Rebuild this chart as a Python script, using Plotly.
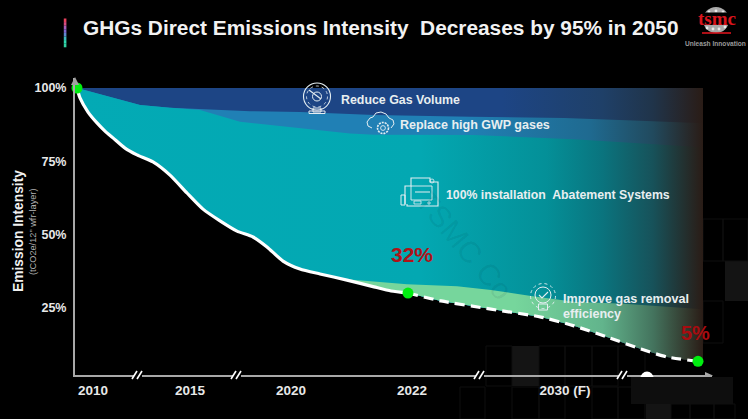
import plotly.graph_objects as go

# ---- data (timeline position on a broken axis, intensity in %)
tick_pos = [93, 190, 291, 412, 565]
tick_labels = ["2010", "2015", "2020", "2022", "2030 (F)"]
y_ticks = [25, 50, 75, 100]

top_x = [77, 703]
top_y = [100, 100]

volume_x = [77, 110, 140, 170, 200, 250, 300, 374, 470, 564, 640, 703]
volume_y = [100, 97, 94.2, 93.3, 92.8, 92.1, 91.8, 90.8, 90.2, 89.8, 88.8, 88.0]

gwp_x = [77, 110, 140, 170, 200, 240, 300, 350, 374, 474, 574, 640, 703]
gwp_y = [100, 97, 94.2, 93.3, 92.5, 88.5, 86.2, 84.5, 84.1, 84.0, 82.5, 81.2, 79.8]

actual_x = [77, 80, 88, 97, 105, 113, 125, 137, 153, 170, 187, 203, 220, 237, 253, 267, 283, 300, 320, 347, 374, 391, 408]
actual_y = [100, 96.6, 91.8, 88.1, 85.3, 83.0, 79.5, 77.2, 74.8, 70.3, 64.2, 58.7, 54.7, 51.2, 49.2, 45.8, 41.0, 38.3, 36.6, 34.5, 32.2, 30.8, 30.1]

forecast_x = [408, 441, 491, 541, 574, 607, 641, 667, 698]
forecast_y = [30.1, 27.4, 24.6, 21.9, 18.9, 15.1, 11.0, 8.3, 6.8]

removal_x = [340, 374, 407, 457, 491, 531, 574, 624, 703]
removal_y = [35.0, 34.1, 33.1, 32.4, 31.1, 29.1, 27.1, 26.4, 24.6]

dot_x = [77, 408, 698]
dot_y = [100, 30.1, 6.8]

X0, X1, Y0, Y1 = 75, 712, 78, 375
def px(x): return (x - X0) / (X1 - X0)
def py(y): return 1 - (y - Y0) / (Y1 - Y0)

lower_x = actual_x + forecast_x[1:] + [703]
lower_y = actual_y + forecast_y[1:] + [6.7]

def band(upper_x, upper_y, bottom_x, bottom_y, stops):
    return go.Scatter(
        x=list(upper_x) + list(bottom_x)[::-1],
        y=list(upper_y) + list(bottom_y)[::-1],
        mode="lines", line=dict(width=0), fill="toself",
        fillgradient=dict(type="horizontal", start=75, stop=703, colorscale=stops),
        hoverinfo="skip", showlegend=False)

DARK = "#2a1c16"
fig = go.Figure()
fig.add_trace(band(top_x, top_y, lower_x, lower_y,
    [[0, "#1d4585"], [0.68, "#1d4585"], [0.84, "#1f4068"], [0.92, "#20344a"], [1, DARK]]))
fig.add_trace(band(volume_x, volume_y, lower_x, lower_y,
    [[0, "#2080b5"], [0.62, "#2080b5"], [0.82, "#1f6a90"], [0.92, "#214a5e"], [1, DARK]]))
fig.add_trace(band(gwp_x, gwp_y, lower_x, lower_y,
    [[0, "#03aab5"], [0.55, "#03a8b2"], [0.75, "#049098"], [0.84, "#0a747e"], [0.92, "#17525a"], [1, DARK]]))
low_green = [(x, y) for x, y in zip(lower_x, lower_y) if x >= 340]
fig.add_trace(band(removal_x, removal_y,
    [340] + [p[0] for p in low_green], [35.0] + [p[1] for p in low_green],
    [[0, "#76d69c"], [0.7, "#76d69c"], [0.84, "#62b48c"], [0.92, "#44745e"], [1, DARK]]))

fig.add_trace(go.Scatter(x=actual_x, y=actual_y, mode="lines", showlegend=False, hoverinfo="skip",
                         line=dict(color="white", width=3.2, shape="spline", smoothing=0.6)))
fig.add_trace(go.Scatter(x=forecast_x, y=forecast_y, mode="lines", showlegend=False, hoverinfo="skip",
                         line=dict(color="white", width=3.2, dash="10px,6px", shape="spline", smoothing=0.6)))
fig.add_trace(go.Scatter(x=dot_x, y=dot_y, mode="markers", showlegend=False, hoverinfo="skip",
                         cliponaxis=False, marker=dict(color="#00ee10", size=11)))

shapes = []
def rect(x0, y0, x1, y1, fill=None, line=None, w=1, layer="above"):
    shapes.append(dict(type="rect", xref="paper", yref="paper", layer=layer,
                       x0=px(x0), x1=px(x1), y0=py(y0), y1=py(y1),
                       fillcolor=fill or "rgba(0,0,0,0)",
                       line=dict(color=line or "rgba(0,0,0,0)", width=w if line else 0)))
def circ(cx, cy, r, fill=None, line=None, w=1, dash=None):
    shapes.append(dict(type="circle", xref="paper", yref="paper", layer="above",
                       x0=px(cx - r), x1=px(cx + r), y0=py(cy + r), y1=py(cy - r),
                       fillcolor=fill or "rgba(0,0,0,0)",
                       line=dict(color=line or "rgba(0,0,0,0)", width=w if line else 0, dash=dash or "solid")))
def seg(x0, y0, x1, y1, color="#e8f2f4", w=1):
    shapes.append(dict(type="line", xref="paper", yref="paper", layer="above",
                       x0=px(x0), x1=px(x1), y0=py(y0), y1=py(y1), line=dict(color=color, width=w)))
def path(pts, fill=None, line=None, w=1, close=False):
    d = "M" + " L".join(f"{px(a):.5f},{py(b):.5f}" for a, b in pts) + (" Z" if close else "")
    shapes.append(dict(type="path", xref="paper", yref="paper", layer="above", path=d,
                       fillcolor=fill or "rgba(0,0,0,0)",
                       line=dict(color=line or "rgba(0,0,0,0)", width=w if line else 0)))

# faint background tiles
for t in [(725, 261, 748, 301), (512, 346, 539, 386), (646, 404, 671, 419)]:
    rect(*t, fill="#141414", layer="below")
for t in [(486, 346, 512, 386), (539, 346, 565, 386), (565, 346, 592, 386), (592, 346, 618, 386),
          (618, 346, 645, 376), (703, 219, 723, 261), (723, 219, 748, 261), (703, 301, 723, 343),
          (460, 387, 485, 419), (512, 387, 539, 419), (539, 387, 565, 419), (592, 387, 618, 419),
          (618, 387, 645, 419), (671, 404, 690, 419), (690, 404, 714, 419), (714, 404, 735, 419)]:
    rect(*t, line="#0e0e0e", layer="below")

# gradient accent next to the title
accent = ["#e8405c", "#d84c80", "#a860b8", "#8068d0", "#6088d0", "#40b8c0", "#30d8b0", "#30d0a0"]
for i, c in enumerate(accent):
    rect(63.8, 18.5 + i * 3.6, 66.4, 18.5 + (i + 1) * 3.6, fill=c)

# axis arrow heads and break marks
path([(71, 85), (75, 77), (79, 85)], fill="#a0a0a0", close=True)
path([(705, 372), (713, 375.5), (705, 379)], fill="#a8a8a8", close=True)
for b in [138, 237, 480, 623]:
    rect(b - 4, 373, b + 4, 378, fill="#000000")
    seg(b - 6, 379, b - 1, 371, "white", 1.6)
    seg(b - 1, 379, b + 4, 371, "white", 1.6)

# white blob and masking box
circ(647, 378, 6.5, fill="white")
rect(631, 377, 733, 404, fill="#0e0e0e")

# gauge icon
ic = "#e4eef2"
circ(317, 96.5, 13.5, line=ic, w=1.1)
circ(317, 96.5, 10.5, line=ic, w=0.8, dash="dot")
circ(317, 96.5, 4.5, line=ic, w=1)
seg(309, 90, 321, 99, ic, 1.1)
rect(313, 108, 321, 112, line=ic, w=1)
rect(309, 111, 325, 113.5, line=ic, w=1)

# cloud and gear icon
path([(372, 128), (368, 126), (367, 122), (370, 118), (373, 117), (376, 113), (381, 112), (386, 114),
      (389, 118), (393, 120), (394, 124), (391, 128)], line=ic, w=1)
circ(383, 128, 5.5, fill="#2080b5", line=ic, w=1.6, dash="2px,1px")
circ(383, 128, 2.4, line=ic, w=0.9)

# abatement machine icon
path([(405, 204), (405, 186), (411, 186), (411, 178), (430, 178), (430, 182), (438, 182), (438, 206), (407, 206), (407, 204)], line=ic, w=1.1)
rect(401, 195, 405, 205, line=ic, w=1)
rect(411, 186, 432, 200, line=ic, w=0.9)
seg(415, 192, 430, 192, ic, 1)
rect(414, 201, 421, 204, line=ic, w=0.8)
circ(429, 203, 1.2, line=ic, w=0.8)
circ(432, 181, 2, line=ic, w=0.8)

# bulb icon
circ(543, 296, 12.5, line=ic, w=0.9, dash="dot")
circ(543, 295, 8, line=ic, w=1)
rect(538.5, 304, 547.5, 310, line=ic, w=1)
path([(539, 295), (542, 298), (548, 292)], line=ic, w=1.1)

# logo
circ(716, 20, 13, fill="#a9a9a9")
for dx, dy in [(-7, -8), (0, -9), (7, -8), (-9, 8), (-3, 9), (3, 9), (9, 7), (-4, -5), (4, -5)]:
    circ(716 + dx, 20 + dy, 1.4, fill="#e8e8e8")
rect(701, 12.5, 733, 25, fill="#000000")
seg(702, 33, 731, 33, "#d8141c", 1.6)

def note(x, y, text, size, color="#e8eef0", bold=True, anchor="left", angle=0, family="Liberation Sans"):
    x = x - 2 if anchor == "left" else x
    return dict(xref="paper", yref="paper", x=px(x), y=py(y), text=f"<b>{text}</b>" if bold else text,
                showarrow=False, xanchor=anchor, yanchor="middle", textangle=angle,
                font=dict(size=size, color=color, family=family))

notes = [
    note(83, 27, "GHGs Direct Emissions Intensity\u00a0 Decreases by 95% in 2050", 20.85, "#f2f2f2"),
    note(717, 19, "tsmc", 19, "#d8141c", anchor="center", family="Liberation Serif"),
    note(715.5, 43.5, "Unleash Innovation", 6.6, "#9a9a9a", anchor="center"),
    note(341, 100, "Reduce Gas Volume", 12.4),
    note(400, 125, "Replace high GWP gases", 12.5),
    note(446, 195.5, "100% installation\u00a0 Abatement Systems", 12.3),
    note(563, 299, "Improve gas removal", 12.6),
    note(563, 314, "efficiency", 12.6),
    note(412, 255, "32%", 21, "#b01218", anchor="center"),
    note(695, 333, "5%", 20, "#a80c10", anchor="center"),
    note(18, 231, "Emission Intensity", 13.8, "#f0f0f0", anchor="center", angle=-90),
    note(33, 232, "(tCO2e/12\" wfr-layer)", 9.2, "#b0b0b0", bold=False, anchor="center", angle=-90),
    note(465, 245, "TSMC Co", 30, "rgba(0,20,30,0.08)", bold=False, anchor="center", angle=50),
]

fig.update_layout(
    width=748, height=419, autosize=False,
    margin=dict(l=X0, r=748 - X1, t=Y0, b=419 - Y1, pad=0),
    paper_bgcolor="#000000", plot_bgcolor="rgba(0,0,0,0)",
    font=dict(family="Liberation Sans", color="#e8e8e8"),
    showlegend=False, shapes=shapes, annotations=notes,
    xaxis=dict(range=[X0, X1], tickmode="array", tickvals=tick_pos, ticktext=[f"<b>{t}</b>" for t in tick_labels],
               showgrid=False, zeroline=False, showline=True, linecolor="#a8a8a8", linewidth=2,
               ticks="", tickfont=dict(size=13.5, color="#e8e8e8"), fixedrange=True, ticklabelstandoff=2),
    yaxis=dict(range=[(381.3 - Y1) / 2.933, (381.3 - Y0) / 2.933], tickmode="array", tickvals=y_ticks,
               ticktext=[f"<b>{v}%</b>" for v in y_ticks],
               showgrid=False, zeroline=False, showline=True, linecolor="#a8a8a8", linewidth=2,
               ticks="", tickfont=dict(size=12.5, color="#e8e8e8"), fixedrange=True, ticklabelstandoff=4),
)
fig.write_html("out.html", config=dict(displayModeBar=False),
               post_script="document.body.style.margin='0';document.body.style.background='#000';document.documentElement.style.overflow='hidden';")
